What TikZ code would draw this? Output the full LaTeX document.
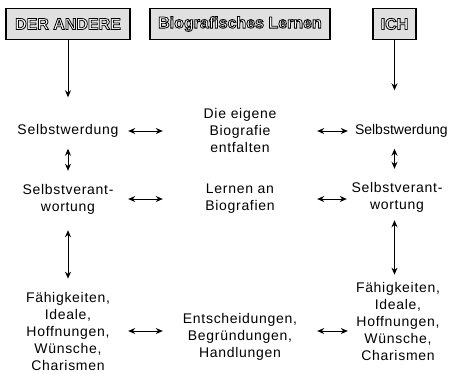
\documentclass[tikz,border=0pt]{standalone}
\usepackage{fontspec}
\setmainfont[LetterSpace=5]{Liberation Sans}
\usetikzlibrary{arrows.meta}
\newcommand{\hollow}[1]{\textcolor{white}{\special{pdf:literal direct 2 Tr 0.8 w 0 G}#1\special{pdf:literal direct 0 Tr}}}
\tikzset{
	head/.style={draw, line width=1.5pt, fill=black!12, minimum height=31pt, inner sep=2pt, font=\fontsize{16}{18}\selectfont\addfontfeatures{LetterSpace=0}\bfseries},
	lbl/.style={align=center, inner sep=0pt, text width=#1},
	lbl/.default=110pt,
	dbl/.style={<->, line width=1pt}
}

\begin{document}
\begin{tikzpicture}[>={Stealth[length=7pt,width=6pt]}, x=1pt, y=-1pt, font=\fontsize{14}{17}\selectfont]
	\useasboundingbox (0,0) rectangle (449,373);
	% column heads
	\node (andere) at (68,24) [head, minimum width=124pt] {\hollow{DER ANDERE}};
	\node (lernen) at (240,24) [head, minimum width=180pt] {\hollow{Biografisches Lernen}};
	\node (ich) at (394.5,24) [head, minimum width=43pt] {\hollow{ICH}};
	% left column
	\node (sw1) at (68,131) [lbl] {Selbstwerdung};
	\node (sv1) at (68,199) [lbl] {Selbstverant-\\wortung};
	\node (fa1) at (68,331) [lbl] {Fähigkeiten,\\Ideale,\\Hoffnungen,\\Wünsche,\\Charismen};
	% middle column
	\node (mid1) at (240,130) [lbl=130pt] {Die eigene\\Biografie\\entfalten};
	\node (mid2) at (240,199) [lbl=130pt] {Lernen an\\Biografien};
	\node (mid3) at (240,337) [lbl=130pt] {Entscheidungen,\\Begründungen,\\Handlungen};
	% right column
	\node (sw2) at (401,131) [lbl=92pt, font=\fontsize{14}{17}\selectfont\addfontfeatures{LetterSpace=0}] {Selbstwerdung};
	\node (sv2) at (397,197) [lbl=100pt] {Selbstverant-\\wortung};
	\node (fa2) at (398,321) [lbl=100pt] {Fähigkeiten,\\Ideale,\\Hoffnungen,\\Wünsche,\\Charismen};
	% downward arrows
	\draw [->, line width=1pt, shorten >=27pt] (andere) -- (sw1);
	\draw [->, line width=1pt, shorten >=34pt] (ich) -- (ich |- sw2.north);
	% vertical links
	\draw [dbl, shorten <=11pt, shorten >=13pt] (sw1) -- (sv1);
	\draw [dbl, shorten <=16pt, shorten >=13pt] (sv1) -- (fa1);
	\draw [dbl, shorten <=11pt, shorten >=13pt] (ich |- sw2.south) -- (ich |- sv2.north);
	\draw [dbl, shorten <=8pt, shorten >=7pt] (ich |- sv2.south) -- (ich |- fa2.north);
	% horizontal links
	\draw [dbl] ([xshift=5pt]sw1.east) -- ([xshift=-12pt]sw1.east -| mid1.west);
	\draw [dbl] ([xshift=12pt]sw2.west -| mid1.east) -- ([xshift=-7pt]sw2.west);
	\draw [dbl] ([xshift=5pt]sv1.east) -- ([xshift=-12pt]sv1.east -| mid2.west);
	\draw [dbl] ([xshift=12pt]sv1.west -| mid2.east) -- ([xshift=0pt]sv1.west -| sv2.west);
	\draw [dbl] ([xshift=5pt]fa1.east) -- ([xshift=-12pt]fa1.east -| mid3.west);
	\draw [dbl] ([xshift=12pt]mid3.east |- 0,331) -- ([xshift=0pt]fa2.west |- 0,331);
\end{tikzpicture}
\end{document}
